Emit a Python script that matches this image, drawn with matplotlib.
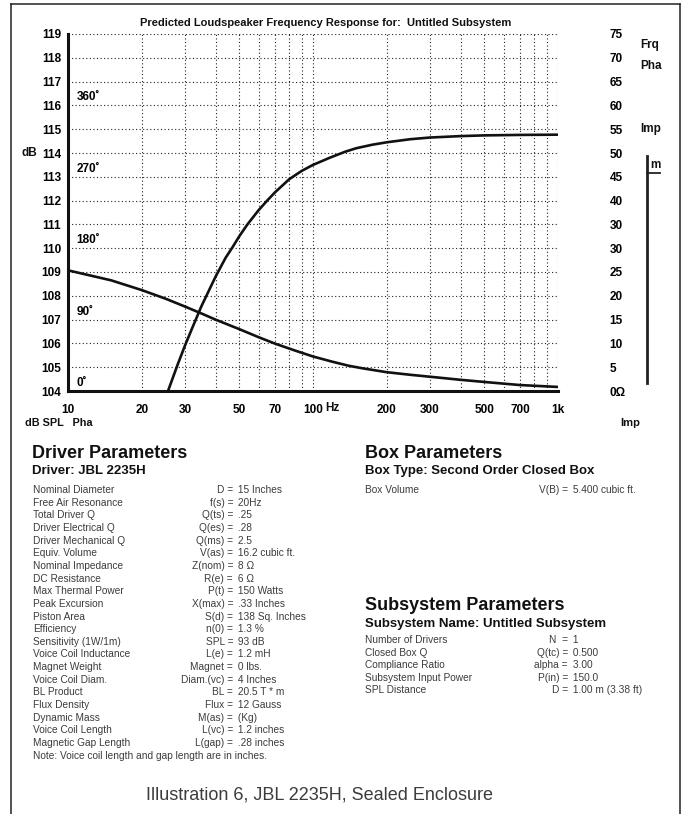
import numpy as np
import matplotlib.pyplot as plt
from matplotlib.lines import Line2D

plt.rcParams['font.family'] = ['Liberation Sans', 'DejaVu Sans']

# SPL response (dB)
spl_freq = [25.6, 28, 30, 32, 35, 40, 44, 47, 50, 54, 60, 65, 70, 80, 90, 100, 117, 135, 150,
            175, 200, 250, 300, 400, 500, 700, 1000]
spl_db = [104.0, 105.1, 105.9, 106.6, 107.55, 108.8, 109.6, 110.05, 110.5, 111.0, 111.6, 112.0,
          112.35, 112.9, 113.25, 113.5, 113.8, 114.05, 114.2, 114.35, 114.45, 114.58, 114.65,
          114.71, 114.74, 114.76, 114.77]

# phase curve, plotted on the dB scale (0 deg = 104, 90 deg per 3 dB)
pha_freq = [10, 15, 20, 25, 30, 35, 40, 50, 60, 70, 85, 100, 120, 140, 160, 200, 250, 300, 400,
            500, 700, 1000]
pha_db = [109.07, 108.65, 108.24, 107.88, 107.55, 107.26, 107.0, 106.6, 106.26, 105.99, 105.69,
          105.45, 105.23, 105.06, 104.95, 104.79, 104.68, 104.6, 104.47, 104.38, 104.25, 104.17]

db_ticks = list(range(104, 120))
imp_labels = ['0\u03a9', '5', '10', '15', '20', '25', '30', '30', '40', '45', '50', '55',
              '60', '65', '70', '75']
freq_ticks = [10, 20, 30, 50, 70, 100, 200, 300, 500, 700, 1000]
freq_labels = ['10', '20', '30', '50', '70', '100', '200', '300', '500', '700', '1k']
minor_ticks = [40, 60, 80, 90, 400, 600, 800, 900]
phase_labels = ['0\u02da', '90\u02da', '180\u02da', '270\u02da', '360\u02da']
phase_db = [104, 107, 110, 113, 116]

driver_names = ['Nominal Diameter', 'Free Air Resonance', 'Total Driver Q', 'Driver Electrical Q',
                'Driver Mechanical Q', 'Equiv. Volume', 'Nominal Impedance', 'DC Resistance',
                'Max Thermal Power', 'Peak Excursion', 'Piston Area', 'Efficiency',
                'Sensitivity (1W/1m)', 'Voice Coil Inductance', 'Magnet Weight', 'Voice Coil Diam.',
                'BL Product', 'Flux Density', 'Dynamic Mass', 'Voice Coil Length',
                'Magnetic Gap Length']
driver_keys = ['D', 'f(s)', 'Q(ts)', 'Q(es)', 'Q(ms)', 'V(as)', 'Z(nom)', 'R(e)', 'P(t)',
               'X(max)', 'S(d)', 'n(0)', 'SPL', 'L(e)', 'Magnet', 'Diam.(vc)', 'BL', 'Flux',
               'M(as)', 'L(vc)', 'L(gap)']
driver_vals = ['15 Inches', '20Hz', '.25', '.28', '2.5', '16.2 cubic ft.', '8 \u03a9', '6 \u03a9',
               '150 Watts', '.33 Inches', '138 Sq. Inches', '1.3 %', '93 dB', '1.2 mH', '0 lbs.',
               '4 Inches', '20.5 T * m', '12 Gauss', '(Kg)', '1.2 inches', '.28 inches']

sub_names = ['Number of Drivers', 'Closed Box Q', 'Compliance Ratio', 'Subsystem Input Power',
             'SPL Distance']
sub_keys = ['N ', 'Q(tc)', 'alpha', 'P(in)', 'D']
sub_vals = ['1', '0.500', '3.00', '150.0', '1.00 m (3.38 ft)']

W, H = 683, 814
fig = plt.figure(figsize=(W / 100, H / 100), dpi=100)


def fx(x):
    return x / W


def fy(y):
    return 1 - y / H


# page frame (no bottom edge)
fig.add_artist(Line2D([fx(10.5), fx(10.5)], [fy(814), fy(3.5)], color='#222', lw=1.1))
fig.add_artist(Line2D([fx(10.5), fx(680)], [fy(3.5), fy(3.5)], color='#222', lw=1.1))
fig.add_artist(Line2D([fx(680), fx(680)], [fy(3.5), fy(814)], color='#222', lw=1.1))

ax = fig.add_axes([fx(68), fy(391), (558 - 68) / W, (391 - 34) / H])
ax.set_xscale('log')
ax.set_xlim(10, 1000)
ax.set_ylim(104, 119)
ax.plot(spl_freq, spl_db, color='#111', lw=1.9, solid_capstyle='butt')
ax.plot(pha_freq, pha_db, color='#111', lw=1.9, solid_capstyle='butt')

ax.set_yticks(db_ticks)
ax.set_yticklabels([str(t) for t in db_ticks])
ax.set_xticks(freq_ticks)
ax.set_xticklabels(freq_labels)
ax.set_xticks(minor_ticks, minor=True)
ax.xaxis.set_minor_formatter(plt.NullFormatter())
ax.tick_params(axis='both', which='both', length=0)
ax.tick_params(axis='y', pad=5, labelsize=8.5)
ax.tick_params(axis='x', pad=9, labelsize=8.5)
for lab in ax.get_xticklabels() + ax.get_yticklabels():
    lab.set_fontweight('bold')
ax.grid(True, which='both', color='#222', linestyle=(0, (1, 2.2)), lw=0.8)
for s in ['top', 'right']:
    ax.spines[s].set_visible(False)
for s in ['left', 'bottom']:
    ax.spines[s].set_linewidth(2.2)
    ax.spines[s].set_color('#111')

for lab, d in zip(phase_labels, phase_db):
    ax.annotate(lab, xy=(10, d), xytext=(6, 1.5), textcoords='offset points',
                fontsize=8.5, fontweight='bold', va='bottom', ha='left')

# right-hand impedance scale labels
ax2 = ax.twinx()
ax2.set_ylim(104, 119)
ax2.set_yticks(db_ticks)
ax2.set_yticklabels(imp_labels)
ax2.tick_params(axis='y', length=0, pad=37, labelsize=8.5)
for lab in ax2.get_yticklabels():
    lab.set_fontweight('bold')
    lab.set_horizontalalignment('left')
for s in ax2.spines.values():
    s.set_visible(False)

bold = dict(fontweight='bold', color='#111')
fig.text(fx(326), fy(23), 'Predicted Loudspeaker Frequency Response for:  Untitled Subsystem',
         fontsize=8, ha='center', va='center', **bold)
fig.text(fx(325), fy(408), 'Hz', fontsize=8.5, va='center', **bold)
fig.text(fx(22), fy(153), 'dB', fontsize=8.5, va='center', **bold)
fig.text(fx(25), fy(423), 'dB SPL   Pha', fontsize=7.8, va='center', **bold)
fig.text(fx(620), fy(423), 'Imp', fontsize=8, va='center', **bold)
fig.text(fx(640), fy(45), 'Frq', fontsize=8.5, va='center', **bold)
fig.text(fx(640), fy(66), 'Pha', fontsize=8.5, va='center', **bold)
fig.text(fx(640), fy(129), 'Imp', fontsize=8.5, va='center', **bold)
fig.text(fx(650), fy(171), 'm', fontsize=8.5, va='bottom', **bold)
fig.add_artist(Line2D([fx(647), fx(647)], [fy(156), fy(383)], color='#222', lw=2))
fig.add_artist(Line2D([fx(647), fx(660)], [fy(173), fy(173)], color='#222', lw=1.3))

grey = '#3c3c3c'
fs = 7.3
# Driver parameters block
fig.text(fx(32), fy(453), 'Driver Parameters', fontsize=13, va='center', **bold)
fig.text(fx(32), fy(471), 'Driver: JBL 2235H', fontsize=9.5, va='center', **bold)
row0, step = 490, 12.65
for i in range(len(driver_names)):
    y = fy(row0 + i * step)
    fig.text(fx(33), y, driver_names[i], fontsize=fs, va='center', color=grey)
    fig.text(fx(233), y, driver_keys[i] + ' =', fontsize=fs, va='center', ha='right', color=grey)
    fig.text(fx(235), y, ' ' + driver_vals[i], fontsize=fs, va='center', ha='left', color=grey)
fig.text(fx(33), fy(row0 + len(driver_names) * step),
         'Note: Voice coil length and gap length are in inches.',
         fontsize=fs, va='center', color=grey)

# Box parameters block
fig.text(fx(365), fy(453), 'Box Parameters', fontsize=13, va='center', **bold)
fig.text(fx(365), fy(471), 'Box Type: Second Order Closed Box', fontsize=9.5, va='center', **bold)
fig.text(fx(365), fy(490), 'Box Volume', fontsize=fs, va='center', color=grey)
fig.text(fx(568), fy(490), 'V(B) =', fontsize=fs, va='center', ha='right', color=grey)
fig.text(fx(570), fy(490), ' 5.400 cubic ft.', fontsize=fs, va='center', ha='left', color=grey)

# Subsystem parameters block
fig.text(fx(365), fy(605), 'Subsystem Parameters', fontsize=13, va='center', **bold)
fig.text(fx(365), fy(624), 'Subsystem Name: Untitled Subsystem', fontsize=9.5, va='center', **bold)
for i in range(len(sub_names)):
    y = fy(640 + i * 12.6)
    fig.text(fx(365), y, sub_names[i], fontsize=fs, va='center', color=grey)
    fig.text(fx(568), y, sub_keys[i] + ' =', fontsize=fs, va='center', ha='right', color=grey)
    fig.text(fx(570), y, ' ' + sub_vals[i], fontsize=fs, va='center', ha='left', color=grey)

fig.text(fx(319), fy(795), 'Illustration 6, JBL 2235H, Sealed Enclosure', fontsize=13,
         va='center', ha='center', color=grey)

fig.savefig('out.png', dpi=100, facecolor='white')
